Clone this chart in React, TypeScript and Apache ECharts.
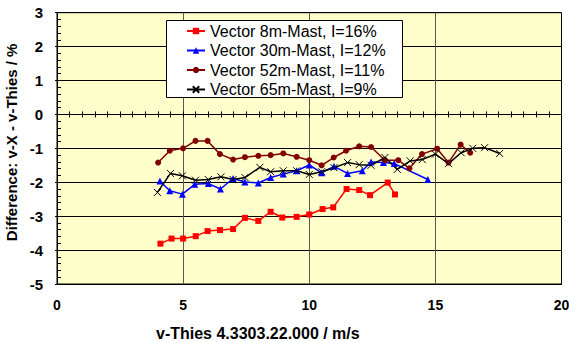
import React, { useEffect, useRef } from "react";
import * as echarts from "echarts";

const FONT = '"Liberation Sans", Arial, sans-serif';

const xTicks = [0, 5, 10, 15, 20];
const yTicks = [-5, -4, -3, -2, -1, 0, 1, 2, 3];

const seriesNames = [
  "Vector 8m-Mast, I=16%",
  "Vector 30m-Mast, I=12%",
  "Vector 52m-Mast, I=11%",
  "Vector 65m-Mast, I=9%",
];

const x8 = [4.1, 4.54, 5.0, 5.5, 5.97, 6.46, 6.98, 7.45, 7.98, 8.47, 8.93, 9.5, 10.0, 10.53, 10.95, 11.48, 11.98, 12.41, 13.11, 13.4];
const y8 = [-3.81, -3.66, -3.66, -3.59, -3.44, -3.41, -3.38, -3.05, -3.14, -2.87, -3.04, -3.02, -2.95, -2.79, -2.74, -2.2, -2.23, -2.38, -2.01, -2.36];

const x30 = [4.08, 4.47, 4.97, 5.46, 6.0, 6.48, 6.98, 7.45, 7.98, 8.47, 8.97, 9.5, 10.0, 10.49, 10.98, 11.52, 12.1, 12.45, 12.94, 13.37, 14.7];
const y30 = [-1.96, -2.25, -2.35, -2.06, -2.04, -2.2, -1.89, -1.99, -2.02, -1.86, -1.76, -1.66, -1.49, -1.72, -1.53, -1.74, -1.66, -1.4, -1.42, -1.45, -1.92];

const x52 = [4.01, 4.47, 5.0, 5.49, 5.97, 6.46, 6.98, 7.45, 7.98, 8.47, 8.97, 9.5, 10.0, 10.49, 10.97, 11.46, 11.98, 12.45, 13.0, 13.53, 13.97, 14.47, 15.07, 15.52, 16.0, 16.38];
const y52 = [-1.42, -1.07, -1.0, -0.78, -0.78, -1.17, -1.33, -1.26, -1.22, -1.2, -1.15, -1.25, -1.35, -1.5, -1.27, -1.07, -0.94, -0.96, -1.35, -1.35, -1.59, -1.17, -1.01, -1.42, -0.89, -1.13];

const x65 = [3.98, 4.5, 4.97, 5.49, 6.0, 6.5, 6.98, 7.45, 8.04, 8.47, 8.97, 9.5, 10.0, 10.49, 10.98, 11.52, 11.98, 12.45, 13.0, 13.49, 14.0, 14.48, 15.0, 15.52, 16.02, 16.48, 16.95, 17.55];
const y65 = [-2.3, -1.74, -1.81, -1.94, -1.92, -1.84, -1.92, -1.86, -1.56, -1.69, -1.66, -1.66, -1.77, -1.69, -1.57, -1.42, -1.48, -1.5, -1.27, -1.62, -1.37, -1.33, -1.17, -1.45, -1.13, -1.0, -0.98, -1.15];

const zip = (xs: number[], ys: number[]) => xs.map((x, i) => [x, ys[i]]);

export default function App() {
  const ref = useRef<HTMLDivElement>(null);
  useEffect(() => {
    if (!ref.current) return;
    const chart = echarts.init(ref.current, undefined, { renderer: "svg" });
    const xMin = xTicks[0];
    const xMax = xTicks[xTicks.length - 1];
    const yMin = yTicks[0];
    const yMax = yTicks[yTicks.length - 1];
    const mk = (
      name: string,
      data: number[][],
      color: string,
      symbol: string,
      symbolSize: number,
      extra: any = {}
    ) => ({
      name,
      type: "line",
      xAxisIndex: 0,
      yAxisIndex: 0,
      data,
      symbol,
      symbolSize,
      lineStyle: { color, width: 1.5 },
      itemStyle: { color, ...extra },
      z: 3,
    });
    chart.setOption({
      animation: false,
      backgroundColor: "#ffffff",
      textStyle: { fontFamily: FONT },
      grid: {
        left: 57,
        right: 7.5,
        top: 12.7,
        bottom: 58,
        outerBoundsMode: "none",
        containLabel: false,
        show: true,
        backgroundColor: "#FFFFCC",
        borderColor: "#000",
        borderWidth: 1,
      },
      title: {
        text: "v-Thies 4.3303.22.000 / m/s",
        left: 156,
        top: 325,
        padding: 0,
        textStyle: { fontSize: 16, fontWeight: "bold", color: "#000", fontFamily: FONT },
      },
      graphic: {
        elements: [
          {
            type: "rect",
            shape: { x: 166.5, y: 20.5, width: 236, height: 77 },
            style: { fill: "#ffffff", stroke: "#000", lineWidth: 1 },
            z: 3,
          },
        ],
      },
      legend: {
        orient: "vertical",
        left: 186,
        top: 23,
        padding: 0,
        itemWidth: 18,
        itemHeight: 8,
        itemGap: 3.5,
        textStyle: { fontSize: 16, lineHeight: 16, color: "#000", fontFamily: FONT },
        data: seriesNames,
        z: 5,
      },
      xAxis: [
        {
          type: "value",
          min: xMin,
          max: xMax,
          interval: 5,
          position: "bottom",
          axisLine: { onZero: false, lineStyle: { color: "#000", width: 1 } },
          axisTick: { show: false },
          axisLabel: { fontSize: 14, fontWeight: "bold", color: "#000", margin: 14, fontFamily: FONT },
          splitLine: {
            show: true,
            showMinLine: false,
            showMaxLine: false,
            lineStyle: { color: "#5a5a50", width: 1 },
          },
        },
        {
          type: "value",
          min: xMin,
          max: xMax,
          interval: 0.5,
          position: "bottom",
          axisLine: { show: true, onZero: true, lineStyle: { color: "#000", width: 1 } },
          axisTick: { show: true, inside: false, length: 3, lineStyle: { color: "#000" } },
          axisLabel: { show: false },
          splitLine: { show: false },
        },
        {
          type: "value",
          min: xMin,
          max: xMax,
          interval: 0.5,
          position: "bottom",
          axisLine: { show: false, onZero: true },
          axisTick: { show: true, inside: true, length: 3, lineStyle: { color: "#000" } },
          axisLabel: { show: false },
          splitLine: { show: false },
        },
      ],
      yAxis: [
        {
          type: "value",
          min: yMin,
          max: yMax,
          interval: 1,
          position: "left",
          name: "Difference: v-X - v-Thies / %",
          nameLocation: "middle",
          nameRotate: 90,
          nameGap: 33,
          nameTextStyle: {
            fontSize: 15,
            fontWeight: "bold",
            color: "#000",
            fontFamily: FONT,
            padding: [0, 0, 0, 12],
          },
          axisLine: { show: true, onZero: false, lineStyle: { color: "#000", width: 1 } },
          axisTick: { show: true, inside: false, length: 2, lineStyle: { color: "#000" } },
          axisLabel: { fontSize: 15, fontWeight: "bold", color: "#000", margin: 14, fontFamily: FONT },
          splitLine: { show: true, lineStyle: { color: "#000", width: 1 } },
        },
        {
          type: "value",
          min: yMin,
          max: yMax,
          interval: 1,
          position: "left",
          axisLine: { show: false, onZero: false },
          axisTick: { show: true, inside: true, length: 4, lineStyle: { color: "#000" } },
          minorTick: { show: true, splitNumber: 5, length: 4, lineStyle: { color: "#000" } },
          axisLabel: { show: false },
          splitLine: { show: false },
        },
      ],
      series: [
        mk(seriesNames[0], zip(x8, y8), "#FF0000", "rect", 6),
        mk(seriesNames[1], zip(x30, y30), "#0000FF", "triangle", 7),
        mk(seriesNames[2], zip(x52, y52), "#800000", "circle", 6),
        mk(seriesNames[3], zip(x65, y65), "#000000", "path://M0,0L10,10M10,0L0,10", 7, {
          borderColor: "#000",
          borderWidth: 1,
        }),
      ],
    });
    return () => chart.dispose();
  }, []);
  return (
    <div
      ref={ref}
      style={{ position: "fixed", left: 0, top: 0, width: 569, height: 342 }}
    />
  );
}
